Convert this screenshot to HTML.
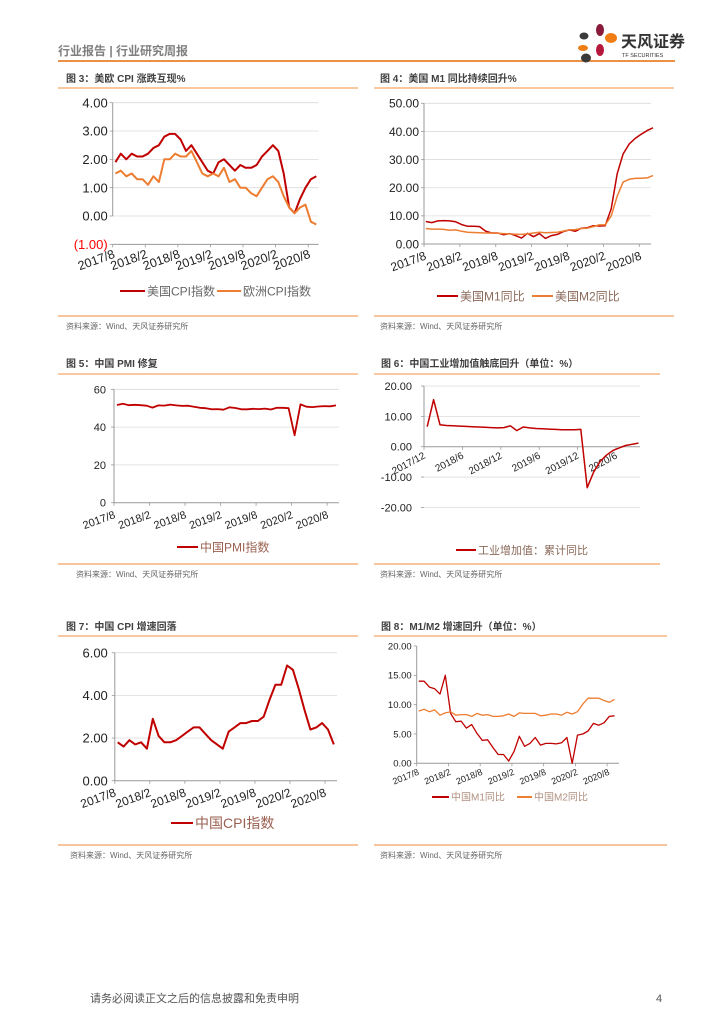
<!DOCTYPE html>
<html><head><meta charset="utf-8">
<style>
body{margin:0;background:#fff;}
svg{display:block;font-family:"Liberation Sans","Noto Sans CJK SC",sans-serif;}
.t{font-size:10px;font-weight:bold;fill:#404040;}
.src{font-size:8px;fill:#666;}
</style></head>
<body>
<svg id="page" width="724" height="1024" viewBox="0 0 724 1024" xmlns="http://www.w3.org/2000/svg">
<g>
<text x="58" y="55" font-size="12" font-weight="bold" fill="#7f7f7f">行业报告 | 行业研究周报</text>
<line x1="58" y1="61" x2="675" y2="61" stroke="#e46c0a" stroke-width="1.5"/>
<g>
<ellipse cx="584" cy="36" rx="4.5" ry="3.5" fill="#3a3a3a"/>
<ellipse cx="600" cy="30" rx="4" ry="6" fill="#8b1a3a"/>
<ellipse cx="611" cy="38" rx="6" ry="5" fill="#ef7d14"/>
<ellipse cx="583" cy="48" rx="5" ry="3" fill="#ef7d14"/>
<ellipse cx="600" cy="50" rx="4" ry="6" fill="#b5183a"/>
<ellipse cx="586" cy="58" rx="5" ry="4.5" fill="#3a3a3a"/>
<text x="621" y="47" font-size="16" font-weight="bold" fill="#333">天风证券</text>
<text x="622" y="57" font-size="5.5" fill="#333">TF SECURITIES</text>
</g>
</g>
<g>
<text class="t" x="66" y="82">图 3：美欧 CPI 涨跌互现%</text>
<line x1="58" y1="88" x2="358" y2="88" stroke="#f8c9a0" stroke-width="2"/>
<text class="t" x="380" y="82">图 4：美国 M1 同比持续回升%</text>
<line x1="374" y1="88" x2="674" y2="88" stroke="#f8c9a0" stroke-width="2"/>
<text class="t" x="66" y="367">图 5：中国 PMI 修复</text>
<line x1="58" y1="374" x2="358" y2="374" stroke="#f8c9a0" stroke-width="2"/>
<text class="t" x="381" y="367">图 6：中国工业增加值触底回升（单位：%）</text>
<line x1="374" y1="374" x2="660" y2="374" stroke="#f8c9a0" stroke-width="2"/>
<text class="t" x="66" y="630">图 7：中国 CPI 增速回落</text>
<line x1="58" y1="636" x2="358" y2="636" stroke="#f8c9a0" stroke-width="2"/>
<text class="t" x="381" y="630">图 8：M1/M2 增速回升（单位：%）</text>
<line x1="374" y1="636" x2="667" y2="636" stroke="#f8c9a0" stroke-width="2"/>
</g>
<g>
<line x1="58" y1="316" x2="358" y2="316" stroke="#f4a060" stroke-width="1.3"/>
<line x1="374" y1="316" x2="674" y2="316" stroke="#f4a060" stroke-width="1.3"/>
<text class="src" x="66" y="329">资料来源：Wind、天风证券研究所</text>
<text class="src" x="380" y="329">资料来源：Wind、天风证券研究所</text>
<line x1="58" y1="564" x2="358" y2="564" stroke="#f4a060" stroke-width="1.3"/>
<line x1="374" y1="564" x2="660" y2="564" stroke="#f4a060" stroke-width="1.3"/>
<text class="src" x="76" y="577">资料来源：Wind、天风证券研究所</text>
<text class="src" x="380" y="577">资料来源：Wind、天风证券研究所</text>
<line x1="58" y1="845" x2="358" y2="845" stroke="#f4a060" stroke-width="1.3"/>
<line x1="374" y1="845" x2="667" y2="845" stroke="#f4a060" stroke-width="1.3"/>
<text class="src" x="70" y="858">资料来源：Wind、天风证券研究所</text>
<text class="src" x="380" y="858">资料来源：Wind、天风证券研究所</text>
</g>
<text x="90" y="1002" font-size="11" fill="#555">请务必阅读正文之后的信息披露和免责申明</text>
<text x="656" y="1002" font-size="11" fill="#555">4</text>
<g id="charts"></g>
</svg>
<script>
// ---- data ----
const dateTicks = ['2017/8','2018/2','2018/8','2019/2','2019/8','2020/2','2020/8'];
const ipTicks = ['2017/12','2018/6','2018/12','2019/6','2019/12','2020/6'];
const usCpi = [1.9,2.2,2.0,2.2,2.1,2.1,2.2,2.4,2.5,2.8,2.9,2.9,2.7,2.3,2.5,2.2,1.9,1.6,1.5,1.9,2.0,1.8,1.6,1.8,1.7,1.7,1.8,2.1,2.3,2.5,2.3,1.5,0.3,0.1,0.6,1.0,1.3,1.4];
const euCpi = [1.5,1.6,1.4,1.5,1.3,1.3,1.1,1.4,1.2,2.0,2.0,2.2,2.1,2.1,2.3,1.9,1.5,1.4,1.5,1.4,1.7,1.2,1.3,1.0,1.0,0.8,0.7,1.0,1.3,1.4,1.2,0.7,0.3,0.1,0.3,0.4,-0.2,-0.3];
const usM1 = [8.0,7.6,8.2,8.3,8.2,7.9,6.9,6.3,6.3,6.2,4.6,3.9,3.9,3.3,3.7,3.0,2.1,3.8,2.6,3.7,2.0,3.0,3.4,4.4,5.0,4.5,5.6,5.8,6.5,6.4,6.5,12.5,25,32,35.5,37.5,39,40.3,41.3];
const usM2 = [5.5,5.3,5.3,5.2,4.9,5.0,4.5,4.2,4.1,4.0,3.9,3.9,3.8,3.7,3.6,3.5,3.4,3.6,3.9,4.2,4.0,4.1,4.2,4.6,5.0,5.1,5.5,5.6,6.2,6.8,6.8,10,17,22,23,23.3,23.4,23.5,24.3];
const cnPmi = [51.7,52.4,51.6,51.8,51.6,51.3,50.3,51.5,51.4,51.9,51.5,51.2,51.3,50.8,50.2,50.0,49.4,49.5,49.2,50.5,50.1,49.4,49.4,49.7,49.5,49.8,49.3,50.2,50.2,50.0,35.7,52.0,50.8,50.6,50.9,51.1,51.0,51.5];
const cnIp = [6.6,15.5,7.2,7.0,6.9,6.8,6.7,6.6,6.5,6.4,6.3,6.2,6.3,6.9,5.3,6.5,6.2,6.0,5.9,5.8,5.7,5.6,5.6,5.6,5.7,-13.5,-8.4,-4.9,-2.8,-1.3,-0.4,0.4,0.8,1.2];
const cnCpi = [1.8,1.6,1.9,1.7,1.8,1.5,2.9,2.1,1.8,1.8,1.9,2.1,2.3,2.5,2.5,2.2,1.9,1.7,1.5,2.3,2.5,2.7,2.7,2.8,2.8,3.0,3.8,4.5,4.5,5.4,5.2,4.3,3.3,2.4,2.5,2.7,2.4,1.7];
const cnM1 = [14.0,14.0,13.0,12.7,11.8,15.0,8.5,7.1,7.2,6.0,6.6,5.1,3.9,4.0,2.7,1.5,1.5,0.4,2.0,4.6,2.9,3.4,4.4,3.1,3.4,3.4,3.3,3.5,4.4,0.0,4.8,5.0,5.5,6.8,6.5,6.9,8.0,8.1];
const cnM2 = [8.9,9.2,8.8,9.1,8.2,8.6,8.8,8.2,8.3,8.3,8.0,8.5,8.2,8.3,8.0,8.0,8.1,8.4,8.0,8.6,8.5,8.5,8.5,8.1,8.2,8.4,8.4,8.2,8.7,8.4,8.8,10.1,11.1,11.1,11.1,10.7,10.4,10.9];
const yt3 = [-1,0,1,2,3,4], yt4 = [0,10,20,30,40,50], yt5 = [0,20,40,60], yt6 = [-20,-10,0,10,20], yt7 = [0,2,4,6], yt8 = [0,5,10,15,20];

const NS = 'http://www.w3.org/2000/svg';
const root = document.getElementById('charts');
function el(tag, attrs, parent){const e=document.createElementNS(NS,tag);for(const k in attrs)e.setAttribute(k,attrs[k]);(parent||root).appendChild(e);return e;}

function chart(c){
  const g = el('g',{});
  
  
  const y = v => c.y0 + (v - c.vmin) * (c.y1 - c.y0) / (c.vmax - c.vmin);
  const x = i => c.x0 + (i + c.off) * c.step;
  // grid + y labels
  c.yticks.forEach(v=>{
    if(c.grid && v!==c.axisV){ const gl=el('line',{x1:c.x0,x2:c.xEnd,y1:y(v),y2:y(v),stroke:'#dcdcdc','stroke-width':0.8},g);
      
       }
    el('line',{x1:c.x0-3,x2:c.x0,y1:y(v),y2:y(v),stroke:'#999','stroke-width':0.8},g);
    const neg = v<0 && c.paren;
    const t=el('text',{x:c.x0-c.lblGap,y:y(v)+c.yfs*0.36,'text-anchor':'end','font-size':c.yfs,fill:neg?'#ff0000':'#222'},g);
    t.textContent = neg ? '('+Math.abs(v).toFixed(c.dec)+')' : v.toFixed(c.dec);
    
    
  });
  // axes
  const ya=el('line',{x1:c.x0,x2:c.x0,y1:y(c.vmax),y2:y(c.vmin),stroke:'#999','stroke-width':1},g);
  
  
  const ay=y(c.axisV);
  const xa=el('line',{x1:c.x0,x2:c.xEnd,y1:ay,y2:ay,stroke:'#999','stroke-width':1},g);
  
  
  c.xticks.forEach((lab,k)=>{
    const tx=c.x0+k*c.tickEvery*c.step;
    el('line',{x1:tx,x2:tx,y1:ay,y2:ay+3,stroke:'#999','stroke-width':0.8},g);
    const t=el('text',{x:tx+c.lx,y:ay+c.ly,'text-anchor':'end','font-size':c.xfs,fill:c.xcol||'#222',transform:`rotate(${c.rot} ${tx+c.lx} ${ay+c.ly})`},g);
    t.textContent=lab;
    
    
  });
  c.series.forEach(s=>{
    const p=el('polyline',{points:s.data.map((v,i)=>x(i).toFixed(1)+','+y(v).toFixed(1)).join(' '),fill:'none',stroke:s.color,'stroke-width':c.sw,'stroke-linejoin':'round'},g);
    
    
    const lg=el('g',{},g);
    
    
    el('line',{x1:s.lx,x2:s.lx+s.lw,y1:c.legY,y2:c.legY,stroke:s.color,'stroke-width':2},lg);
    const t=el('text',{x:s.lx+s.lw+2,y:c.legY+c.legFs*0.36,'font-size':c.legFs,fill:c.legCol},lg);
    t.textContent=s.label;
  });
}

chart({name:'fig3-us-eu-cpi-chart',x0:112.7,xEnd:318.6,step:5.43,off:0.5,y0:216,y1:102.7,vmin:0,vmax:4,yticks:yt3,dec:2,paren:true,yfs:13,lblGap:5,grid:true,axisV:-1,xticks:dateTicks,tickEvery:6,lx:3,ly:13,rot:-20,xfs:12.5,sw:2,legY:291,legFs:12,legCol:'#666',
  series:[{id:'us-cpi-line',data:usCpi,color:'#c00000',label:'美国CPI指数',lx:120,lw:25},{id:'eu-cpi-line',data:euCpi,color:'#ed7d31',label:'欧洲CPI指数',lx:217,lw:24}]});
chart({name:'fig4-us-m1-m2-chart',x0:424,xEnd:651,step:5.98,off:0.3,y0:244,y1:103.3,vmin:0,vmax:50,yticks:yt4,dec:2,yfs:12,lblGap:5,grid:true,axisV:0,xticks:dateTicks,tickEvery:6,lx:3,ly:15,rot:-20,xfs:12,sw:1.5,legY:296,legFs:12,legCol:'#8a6a5a',
  series:[{id:'us-m1-line',data:usM1,color:'#c00000',label:'美国M1同比',lx:437,lw:21},{id:'us-m2-line',data:usM2,color:'#ed7d31',label:'美国M2同比',lx:532,lw:21}]});
chart({name:'fig5-china-pmi-chart',x0:114,xEnd:339,step:5.92,off:0.5,y0:502.7,y1:389.3,vmin:0,vmax:60,yticks:yt5,dec:0,yfs:11,lblGap:8,grid:true,axisV:0,xticks:dateTicks,tickEvery:6,lx:2,ly:15,rot:-20,xfs:11,sw:1.8,legY:547,legFs:12,legCol:'#9a6050',
  series:[{id:'china-pmi-line',data:cnPmi,color:'#c00000',label:'中国PMI指数',lx:177,lw:21}]});
chart({name:'fig6-industrial-output-chart',x0:424,xEnd:640,step:6.4,off:0.5,y0:446.7,y1:386,vmin:0,vmax:20,yticks:yt6,dec:2,yfs:11,lblGap:12,grid:true,axisV:0,xticks:ipTicks,tickEvery:6,lx:2,ly:11,rot:-28,xfs:10,sw:1.5,legY:550,legFs:11,legCol:'#8a6a5a',
  series:[{id:'industrial-output-line',data:cnIp,color:'#c00000',label:'工业增加值：累计同比',lx:456,lw:20}]});
chart({name:'fig7-china-cpi-chart',x0:114.8,xEnd:337,step:5.84,off:0.5,y0:780.7,y1:652.7,vmin:0,vmax:6,yticks:yt7,dec:2,yfs:13,lblGap:7,grid:true,axisV:0,xticks:dateTicks,tickEvery:6,lx:2,ly:15,rot:-20,xfs:12,sw:2,legY:823,legFs:14,legCol:'#9a6050',
  series:[{id:'china-cpi-line',data:cnCpi,color:'#c00000',label:'中国CPI指数',lx:171,lw:22}]});
chart({name:'fig8-china-m1-m2-chart',x0:416.7,xEnd:619,step:5.29,off:0.4,y0:763.3,y1:646,vmin:0,vmax:20,yticks:yt8,dec:2,yfs:9.5,lblGap:5,grid:false,axisV:0,xticks:dateTicks,tickEvery:6,lx:3,ly:11,rot:-22,xfs:9,sw:1.3,legY:797,legFs:10,legCol:'#b09080',
  series:[{id:'china-m1-line',data:cnM1,color:'#c00000',label:'中国M1同比',lx:432,lw:17},{id:'china-m2-line',data:cnM2,color:'#ed7d31',label:'中国M2同比',lx:517,lw:15}]});
</script>
</body></html>
